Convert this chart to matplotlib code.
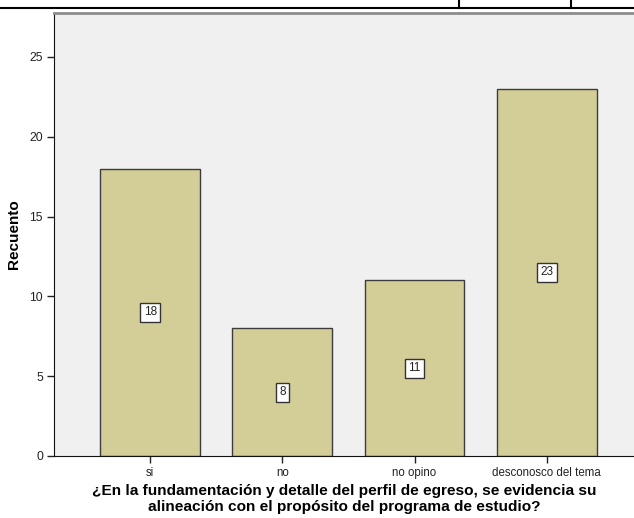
import matplotlib
matplotlib.use("Agg")
import matplotlib.pyplot as plt
from matplotlib.lines import Line2D

# Datos del gráfico
categorias = ["si", "no", "no opino", "desconosco del tema"]
recuentos = [18, 8, 11, 23]
ticks_y = [0, 5, 10, 15, 20, 25]

plt.rcParams['font.family'] = ['Liberation Sans', 'DejaVu Sans']

fig = plt.figure(figsize=(6.34, 5.18), dpi=100)
ax = fig.add_axes([54 / 634, 1 - 456 / 518, 1 - 54 / 634, (456 - 13) / 518])
ax.set_facecolor('#F0F0F0')

x = list(range(len(categorias)))
ax.bar(x, recuentos, width=0.755, color='#D3CE97', edgecolor='#3C3C3C',
       linewidth=1.0, zorder=2)

# Etiquetas de valor en el centro de cada barra
for xi, v in zip(x, recuentos):
    ax.text(xi, v / 2, str(v), ha='center', va='center', fontsize=8.5,
            color='#222222', zorder=3,
            bbox=dict(boxstyle='square,pad=0.3', facecolor='white',
                      edgecolor='#333333', linewidth=1.0))

ax.set_xlim(-0.727, 3.66)
ax.set_ylim(0, 27.75)
ax.set_xticks(x)
ax.set_xticklabels(categorias, fontsize=8.3, color='#222222')
ax.set_yticks(ticks_y)
ax.set_yticklabels([str(t) for t in ticks_y], fontsize=8.8, color='#222222')
ax.tick_params(axis='both', direction='out', length=5, width=1, color='#222222', pad=3)

ax.spines['right'].set_visible(False)
ax.spines['top'].set_color('#8C8C8C')
ax.spines['top'].set_linewidth(2)
ax.spines['left'].set_color('#111111')
ax.spines['bottom'].set_color('#111111')

ax.set_ylabel('Recuento', fontsize=11, fontweight='bold', labelpad=6)
ax.set_xlabel('¿En la fundamentación y detalle del perfil de egreso, se evidencia su\n'
              'alineación con el propósito del programa de estudio?',
              fontsize=11.1, fontweight='bold', linespacing=1.2, labelpad=3.5)

# Línea de la tabla superior
fig.add_artist(Line2D([0, 1], [1 - 7.5 / 518, 1 - 7.5 / 518], color='black', linewidth=1.5))
for px in [459, 571]:
    fig.add_artist(Line2D([px / 634, px / 634], [1, 1 - 7.5 / 518], color='black', linewidth=1.5))

fig.savefig('out.png', dpi=100)
